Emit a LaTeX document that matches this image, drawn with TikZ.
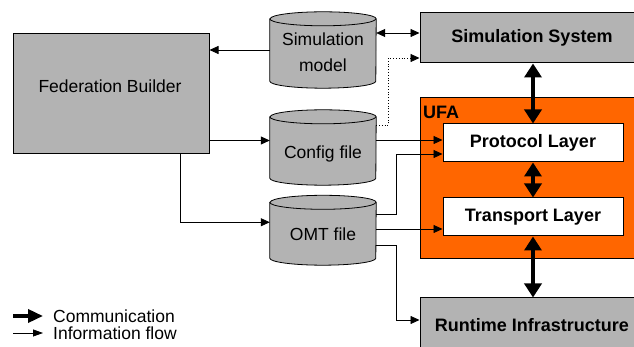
\documentclass[tikz,border=0pt]{standalone}
\usepackage{fontspec}
\setmainfont{Liberation Sans}
\usetikzlibrary{arrows.meta,calc}
\definecolor{boxgray}{HTML}{B3B3B3}
\definecolor{ufaorange}{HTML}{FF6600}
\tikzset{
  graybox/.style={draw=black, line width=1pt, fill=boxgray, inner sep=0pt, font=\fontsize{18}{20}\selectfont\bfseries},
  fbbox/.style={draw=black, line width=1pt, fill=boxgray, inner sep=0pt},
  plaintext/.style={inner sep=0pt, font=\fontsize{17.5}{19}\selectfont},
  layerbox/.style={draw=black, line width=1pt, fill=white, minimum width=180pt, minimum height=38pt, inner sep=0pt, font=\fontsize{18}{20}\selectfont\bfseries},
  cyltext/.style={minimum width=106pt, inner sep=0pt, align=center, font=\fontsize{17.5}{26}\selectfont},
  cylshape/.style={draw=black, line width=0.8pt, fill=boxgray},
  flow/.style={draw=black, line width=0.8pt, -{Triangle[length=9pt, width=8pt]}},
  flowboth/.style={draw=black, line width=0.8pt, {Triangle[length=9pt, width=8pt]}-{Triangle[length=9pt, width=8pt]}},
  comm/.style={draw=black, line width=4pt, {Triangle[length=14pt, width=17pt]}-{Triangle[length=14pt, width=17pt]}},
  legtext/.style={anchor=west, inner sep=0pt, font=\fontsize{17.5}{19}\selectfont}
}
\newcommand{\drawcyl}[1]{%
  \path[cylshape] (#1.north west) -- (#1.south west) arc (180:360:53pt and 7pt) -- (#1.north east) arc (0:180:53pt and 7pt) -- cycle;
  \draw[line width=0.8pt] (#1.north west) arc (180:360:53pt and 7pt);
}
\begin{document}
\begin{tikzpicture}[x=1pt,y=1pt]
\useasboundingbox (0,0) rectangle (634,347);
% boxes
\node[fbbox, minimum width=196pt, minimum height=120pt] (fb) at (111,253) {};
\node[plaintext] (fbt) at (110,261) {Federation Builder};
\node[graybox, minimum width=224pt, minimum height=50pt] (ss) at (532,309) {Simulation System};
\node[draw=black, line width=1pt, fill=ufaorange, minimum width=224pt, minimum height=161pt, inner sep=0pt] (ufa) at (532,168.5) {};
\node[anchor=base west, inner sep=0pt, font=\fontsize{18}{20}\selectfont\bfseries] (ufalabel) at (423,228) {UFA};
\node[layerbox] (pl) at (533,204) {Protocol Layer};
\node[layerbox] (tl) at (533,130) {Transport Layer};
\node[graybox, minimum width=224pt, minimum height=54pt] (rti) at (532,22) {Runtime Infrastructure};
% cylinders
\node[cyltext, minimum height=62pt] (sm) at (323,297) {};
\node[cyltext, minimum height=61pt] (cf) at (323,199.5) {};
\node[cyltext, minimum height=55.5pt] (omt) at (323,116.75) {};
\drawcyl{sm}
\drawcyl{cf}
\drawcyl{omt}
\node[cyltext] (smt) at (323,295) {Simulation\\model};
\node[cyltext] (cft) at (323,193) {Config file};
\node[cyltext] (omtt) at (323,113) {OMT file};
% information flow
\draw[flow] (sm.west) -- (sm.west -| fb.east);
\draw[flowboth] ([yshift=17pt]sm.east) -- ([yshift=17pt]sm.east -| ss.west);
\draw[flow, dotted] ([yshift=22.5pt]cf.east) -| ([xshift=-31pt, yshift=-20pt]ss.west) -- ([yshift=-20pt]ss.west);
\draw[flow] ([yshift=14pt]fb.south east) -- ([yshift=14pt]fb.south east -| cf.west);
\draw[flow] ([xshift=69pt]fb.south) |- ([yshift=8pt]omt.west);
\draw[flow] ([yshift=7.5pt]cf.east) -- ([yshift=7.5pt]cf.east -| pl.west);
\draw[flow] ([yshift=16.25pt]omt.east) -| ([xshift=-46pt, yshift=-11pt]pl.west) -- ([yshift=-11pt]pl.west);
\draw[flow] ([yshift=1.25pt]omt.east) -- ([yshift=1.25pt]omt.east -| tl.west);
\draw[flow] ([yshift=-14.75pt]omt.east) -| ([xshift=-23pt, yshift=5pt]rti.west) -- ([yshift=5pt]rti.west);
% communication
\draw[comm] (pl.north |- ss.south) -- (pl.north);
\draw[comm] (pl.south) -- (tl.north);
\draw[comm] (tl.south) -- (tl.south |- rti.north);
% legend
\coordinate (l1a) at (13,31);
\coordinate (l1b) at (43,31);
\coordinate (l2a) at (13,14);
\coordinate (l2b) at (43,14);
\draw[line width=3.5pt, -{Triangle[length=15pt, width=13pt]}] (l1a) -- (l1b);
\draw[line width=0.8pt, -{Triangle[length=10pt, width=7pt]}] (l2a) -- (l2b);
\node[legtext] (lc) at (53,31) {Communication};
\node[legtext] (li) at (53,14) {Information flow};
\end{tikzpicture}
\end{document}
